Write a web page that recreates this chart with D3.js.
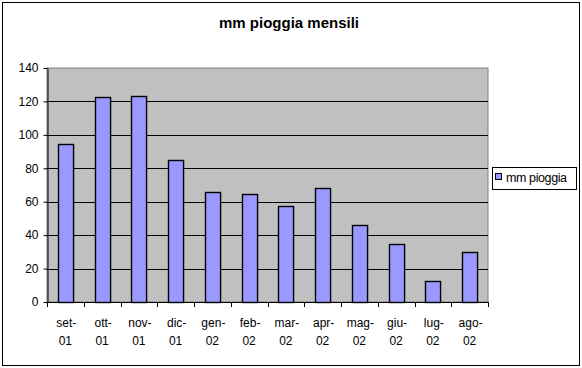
<!DOCTYPE html>
<html>
<head>
<meta charset="utf-8">
<script src="https://cdn.jsdelivr.net/npm/d3@7"></script>
<style>
  body { margin: 0; background: #fff; }
  svg { display: block; font-family: Arial, "Liberation Sans", sans-serif; }
</style>
</head>
<body>
<div id="chart"></div>
<script>
// monthly rain, sept 2001 - aug 2002
var months = ['set-', 'ott-', 'nov-', 'dic-', 'gen-', 'feb-', 'mar-', 'apr-', 'mag-', 'giu-', 'lug-', 'ago-'];
var years = ['01', '01', '01', '01', '02', '02', '02', '02', '02', '02', '02', '02'];
var rain = [94.5, 122.5, 123, 85, 66, 64.5, 57.5, 68, 46, 35, 12.5, 30];
var yTicks = [0, 20, 40, 60, 80, 100, 120, 140];

var W = 582, H = 368;
var plot = { left: 47, right: 488, top: 68, bottom: 302 };

var svg = d3.select('#chart')
  .append('svg')
    .attr('width', W)
    .attr('height', H);

// outer frame
svg.append('rect')
  .attr('x', 2.5).attr('y', 2.5)
  .attr('width', W - 5).attr('height', H - 5)
  .attr('fill', '#fff')
  .attr('stroke', '#000');

svg.append('text')
  .attr('x', 289).attr('y', 28)
  .attr('text-anchor', 'middle')
  .style('font-size', '15px')
  .style('font-weight', 'bold')
  .text('mm pioggia mensili');

var x = d3.scaleBand()
  .domain(d3.range(months.length))
  .range([plot.left, plot.right])
  .paddingInner(0.59)
  .paddingOuter(0.295);

var y = d3.scaleLinear()
  .domain([0, 140])
  .range([plot.bottom, plot.top]);

// plot background
svg.append('rect')
  .attr('x', plot.left).attr('y', plot.top)
  .attr('width', plot.right - plot.left)
  .attr('height', plot.bottom - plot.top)
  .attr('fill', '#c0c0c0')
  .attr('stroke', '#808080');

// gridlines
svg.append('g')
  .selectAll('line')
  .data(yTicks.filter(d => d > 0 && d < 140))
  .enter().append('line')
    .attr('x1', plot.left).attr('x2', plot.right)
    .attr('y1', d => Math.round(y(d)) + 0.5)
    .attr('y2', d => Math.round(y(d)) + 0.5)
    .attr('stroke', '#000');

// bars
svg.append('g')
  .selectAll('rect')
  .data(rain)
  .enter().append('rect')
    .attr('x', (d, i) => Math.round(x(i)) + 0.5)
    .attr('y', d => Math.round(y(d)) + 0.5)
    .attr('width', x.bandwidth())
    .attr('height', d => Math.round(y(0)) - Math.round(y(d)))
    .attr('fill', '#9999ff')
    .attr('stroke', '#000')
    .attr('stroke-width', 1.4);

// y axis
var yAxis = svg.append('g')
  .attr('transform', 'translate(' + (plot.left + 0.5) + ',0)')
  .call(d3.axisLeft(y).tickValues(yTicks).tickSize(4).tickPadding(5).tickSizeOuter(0));
yAxis.selectAll('text').style('font-size', '12px').attr('fill', '#000');
yAxis.select('.domain').attr('stroke', '#000');

// x axis with ticks at category borders
var step = x.step();
var bounds = d3.range(months.length + 1).map(i => plot.left + i * step);
var xg = svg.append('g');
xg.append('line')
  .attr('x1', plot.left).attr('x2', plot.right)
  .attr('y1', plot.bottom + 0.5).attr('y2', plot.bottom + 0.5)
  .attr('stroke', '#000');
xg.selectAll('line.tick')
  .data(bounds)
  .enter().append('line')
    .attr('class', 'tick')
    .attr('x1', d => Math.round(d) + 0.5).attr('x2', d => Math.round(d) + 0.5)
    .attr('y1', plot.bottom).attr('y2', plot.bottom + 5)
    .attr('stroke', '#000');
var lbl = xg.selectAll('text')
  .data(months)
  .enter().append('text')
    .attr('x', (d, i) => x(i) + x.bandwidth() / 2)
    .attr('text-anchor', 'middle')
    .style('font-size', '12px');
lbl.append('tspan')
  .attr('x', (d, i) => x(i) + x.bandwidth() / 2 + 1)
  .attr('y', 327)
  .text(d => d);
lbl.append('tspan')
  .attr('x', (d, i) => x(i) + x.bandwidth() / 2)
  .attr('y', 345)
  .text((d, i) => years[i]);

// legend
var lg = svg.append('g');
lg.append('rect')
  .attr('x', 492.5).attr('y', 167.5)
  .attr('width', 84).attr('height', 22)
  .attr('fill', '#fff')
  .attr('stroke', '#000');
lg.append('rect')
  .attr('x', 495.5).attr('y', 173.5)
  .attr('width', 6).attr('height', 6)
  .attr('fill', '#9999ff')
  .attr('stroke', '#000');
lg.append('text')
  .attr('x', 506).attr('y', 182)
  .style('font-size', '12.5px')
  .style('letter-spacing', '-0.4px')
  .text('mm pioggia');
</script>
</body>
</html>
